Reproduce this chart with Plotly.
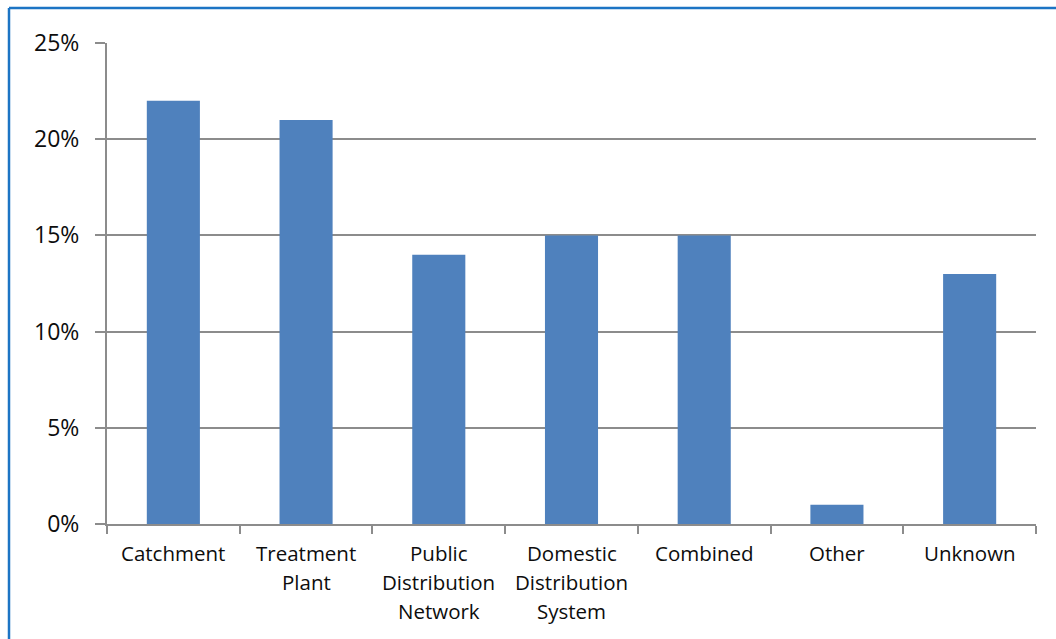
import plotly.graph_objects as go

# Share of outbreaks by source of contamination
categories = [
    "Catchment",
    "Treatment\nPlant",
    "Public\nDistribution\nNetwork",
    "Domestic\nDistribution\nSystem",
    "Combined",
    "Other",
    "Unknown",
]
shares = [0.22, 0.21, 0.14, 0.15, 0.15, 0.01, 0.13]
y_ticks = [0, 0.05, 0.10, 0.15, 0.20, 0.25]

W, H = 1056, 639
L, R, T, B = 107, 20, 43, 115
plot_w, plot_h = W - L - R, H - T - B

FONT = "Open Sans, Liberation Sans, sans-serif"
GRID = "#8c8c8c"

fig = go.Figure(
    go.Bar(
        x=list(range(len(categories))),
        y=shares,
        width=0.4,
        marker=dict(color="#4f81bd", line=dict(width=0)),
        hoverinfo="skip",
    )
)

# Category labels, one line at a time so the line spacing can be set
line_gap = 29
for i, label in enumerate(categories):
    for j, line in enumerate(label.split("\n")):
        fig.add_annotation(
            x=i, y=0, xref="x", yref="paper",
            text=line, showarrow=False,
            xanchor="center", yanchor="middle",
            yshift=-(29 + j * line_gap),
            font=dict(family=FONT, size=20.5, color="#0d0d0d"),
        )

# Blue frame along the left and top edges of the chart object
fx = (9 - L) / plot_w
fy = (H - B - 8) / plot_h
frame = dict(color="#1c74c4", width=2.5)
fig.add_shape(type="line", xref="paper", yref="paper",
              x0=fx, x1=fx, y0=-1, y1=fy, line=frame)
fig.add_shape(type="line", xref="paper", yref="paper",
              x0=fx, x1=2, y0=fy, y1=fy, line=frame)

fig.update_layout(
    width=W, height=H,
    margin=dict(l=L, r=R, t=T, b=B, autoexpand=False),
    paper_bgcolor="white",
    plot_bgcolor="white",
    showlegend=False,
    bargap=0.6,
    xaxis=dict(
        type="linear",
        range=[-0.5, len(categories) - 0.5],
        tickmode="array",
        tickvals=[i - 0.5 for i in range(len(categories) + 1)],
        ticktext=[""] * (len(categories) + 1),
        ticks="outside", ticklen=8, tickwidth=2, tickcolor=GRID,
        showgrid=False, zeroline=False,
        showline=True, linecolor=GRID, linewidth=2,
        fixedrange=True,
    ),
    yaxis=dict(
        range=[0, 0.25],
        tickvals=y_ticks,
        tickformat=".0%",
        ticks="outside", ticklen=10, tickwidth=2, tickcolor=GRID,
        showgrid=True, gridcolor=GRID, gridwidth=2,
        zeroline=False,
        showline=True, linecolor=GRID, linewidth=2,
        tickfont=dict(family=FONT, size=23, color="#0d0d0d"),
        ticklabelstandoff=11,
        fixedrange=True,
    ),
)

fig.write_html("out.html", config={"displayModeBar": False})
